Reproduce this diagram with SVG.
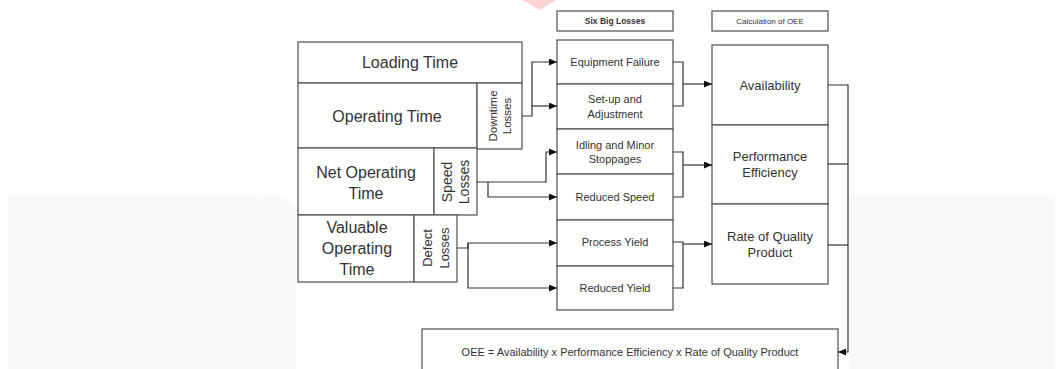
<svg xmlns="http://www.w3.org/2000/svg" width="1063" height="369" viewBox="0 0 1063 369">
<style>
.bx{fill:#fff;stroke:#5a5a5a;stroke-width:1.3}
.t{font-family:"Liberation Sans",Arial,sans-serif;fill:#333;text-anchor:middle;dominant-baseline:central}
.c{fill:none;stroke:#333;stroke-width:1.2}
</style>
<defs>
<marker id="ah" markerUnits="userSpaceOnUse" markerWidth="8" markerHeight="7" refX="8" refY="3.5" orient="auto">
<path d="M0,0 L8,3.5 L0,7 z" fill="#111"/>
</marker>
</defs>
<rect width="1063" height="369" fill="#fff"/>
<path d="M8,195 H262 Q285,196 296,206 V369 H8 Z" fill="#f8f8f8"/>
<rect x="850" y="195" width="205" height="174" fill="#f8f8f8"/>
<polygon points="522,0 556,0 540,10" fill="#fbd3d3"/>

<g id="loading-time"><rect class="bx" x="298" y="42" width="224" height="41"/><text class="t" x="410" y="62" font-size="16">Loading Time</text></g>
<g id="operating-time"><rect class="bx" x="298" y="83" width="179" height="65"/><text class="t" x="387" y="116" font-size="16">Operating Time</text></g>
<g id="downtime-losses"><rect class="bx" x="477" y="83" width="45" height="66"/><g transform="translate(500,116) rotate(-90)"><text class="t" x="0" y="-7" font-size="11.5">Downtime</text><text class="t" x="0" y="7" font-size="11.5">Losses</text></g></g>
<g id="net-operating-time"><rect class="bx" x="298" y="148" width="136" height="67"/><text class="t" x="366" y="172" font-size="16">Net Operating</text><text class="t" x="366" y="193" font-size="16">Time</text></g>
<g id="speed-losses"><rect class="bx" x="434" y="148" width="43" height="67"/><g transform="translate(455.5,182) rotate(-90)"><text class="t" x="0" y="-8.5" font-size="14">Speed</text><text class="t" x="0" y="8.5" font-size="14">Losses</text></g></g>
<g id="valuable-operating-time"><rect class="bx" x="298" y="215" width="116" height="67"/><text class="t" x="357" y="227" font-size="16">Valuable</text><text class="t" x="357" y="248" font-size="16">Operating</text><text class="t" x="357" y="269" font-size="16">Time</text></g>
<g id="defect-losses"><rect class="bx" x="414" y="215" width="43" height="67"/><g transform="translate(435.5,248) rotate(-90)"><text class="t" x="0" y="-8.5" font-size="13">Defect</text><text class="t" x="0" y="8.5" font-size="13">Losses</text></g></g>

<g id="six-big-losses-header"><rect class="bx" x="557" y="11" width="116" height="20"/><text class="t" x="615" y="21" font-size="8.5" font-weight="bold">Six Big Losses</text></g>
<g id="equipment-failure"><rect class="bx" x="557" y="40" width="116" height="44"/><text class="t" x="615" y="62" font-size="11">Equipment Failure</text></g>
<g id="setup-adjustment"><rect class="bx" x="557" y="84" width="116" height="45"/><text class="t" x="615" y="99" font-size="11">Set-up and</text><text class="t" x="615" y="114" font-size="11">Adjustment</text></g>
<g id="idling-minor-stoppages"><rect class="bx" x="557" y="129" width="116" height="45"/><text class="t" x="615" y="145" font-size="11">Idling and Minor</text><text class="t" x="615" y="159" font-size="11">Stoppages</text></g>
<g id="reduced-speed"><rect class="bx" x="557" y="174" width="116" height="46"/><text class="t" x="615" y="197" font-size="11">Reduced Speed</text></g>
<g id="process-yield"><rect class="bx" x="557" y="220" width="116" height="46"/><text class="t" x="615" y="242" font-size="11">Process Yield</text></g>
<g id="reduced-yield"><rect class="bx" x="557" y="266" width="116" height="44"/><text class="t" x="615" y="288" font-size="11">Reduced Yield</text></g>

<g id="calculation-header"><rect class="bx" x="712" y="11" width="116" height="20"/><text class="t" x="770" y="21" font-size="8">Calculation of OEE</text></g>
<g id="availability"><rect class="bx" x="712" y="45" width="116" height="80"/><text class="t" x="770" y="85" font-size="13">Availability</text></g>
<g id="performance-efficiency"><rect class="bx" x="712" y="125" width="116" height="79"/><text class="t" x="770" y="156" font-size="13">Performance</text><text class="t" x="770" y="172" font-size="13">Efficiency</text></g>
<g id="rate-of-quality"><rect class="bx" x="712" y="204" width="116" height="80"/><text class="t" x="770" y="236" font-size="13">Rate of Quality</text><text class="t" x="770" y="252" font-size="13">Product</text></g>

<g id="oee-formula"><rect class="bx" x="422" y="329" width="416" height="50"/><text class="t" x="630" y="352" font-size="11">OEE = Availability x Performance Efficiency x Rate of Quality Product</text></g>

<g id="connectors">
<path class="c" d="M522,116 H532 V62 H557" marker-end="url(#ah)"/>
<path class="c" d="M532,106 H557" marker-end="url(#ah)"/>
<path class="c" d="M477,182 H546 V152 H557" marker-end="url(#ah)"/>
<path class="c" d="M488,182 V197 H557" marker-end="url(#ah)"/>
<path class="c" d="M457,248 H468 V243 H557" marker-end="url(#ah)"/>
<path class="c" d="M468,243 V288 H557" marker-end="url(#ah)"/>
<path class="c" d="M673,62 H683 V106 H673"/>
<path class="c" d="M683,84 H712" marker-end="url(#ah)"/>
<path class="c" d="M673,152 H683 V197 H673"/>
<path class="c" d="M683,165 H712" marker-end="url(#ah)"/>
<path class="c" d="M673,242 H683 V288 H673"/>
<path class="c" d="M683,244 H712" marker-end="url(#ah)"/>
<path class="c" d="M828,85 H848 V352 H838" marker-end="url(#ah)"/>
<path class="c" d="M828,164 H848"/>
<path class="c" d="M828,245 H848"/>
</g>
</svg>
